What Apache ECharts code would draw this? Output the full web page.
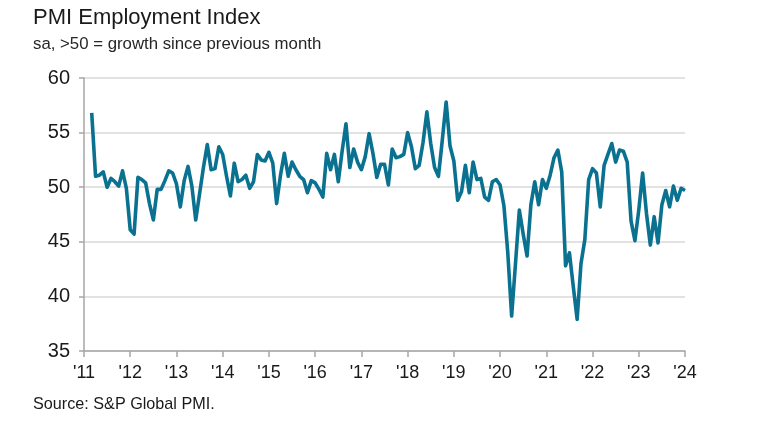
<!DOCTYPE html>
<html>
<head>
<meta charset="utf-8">
<script src="https://cdn.jsdelivr.net/npm/echarts@6/dist/echarts.min.js"></script>
<style>
html,body{margin:0;padding:0;background:#fff;}
#c{width:765px;height:426px;}
</style>
</head>
<body>
<div id="c"></div>
<script>
// Monthly series starts March 2011 (month index 2 counted from Jan 2011)
const startIndex = 2;
const values2011 = [56.8, 51.0, 51.1, 51.4, 50.0, 50.8, 50.5, 50.1, 51.5, 49.9];
const values2012 = [46.1, 45.7, 50.9, 50.7, 50.4, 48.5, 47.0, 49.8, 49.8, 50.6, 51.5, 51.3];
const values2013 = [50.3, 48.2, 50.6, 51.9, 50.1, 47.0, 49.4, 51.8, 53.9, 51.6, 51.7, 53.7];
const values2014 = [53.0, 51.0, 49.2, 52.2, 50.5, 50.7, 51.1, 49.9, 50.5, 53.0, 52.5, 52.4];
const values2015 = [53.2, 52.2, 48.5, 51.1, 53.1, 51.0, 52.3, 51.6, 51.0, 50.7, 49.5, 50.6];
const values2016 = [50.4, 49.8, 49.1, 53.1, 51.6, 53.0, 50.5, 53.3, 55.8, 51.8, 53.5, 52.3];
const values2017 = [51.6, 52.8, 54.9, 53.1, 50.9, 52.1, 52.1, 50.2, 53.5, 52.7, 52.8, 53.0];
const values2018 = [55.0, 53.7, 51.7, 52.0, 54.1, 56.9, 54.0, 51.8, 51.0, 54.3, 57.8, 53.8];
const values2019 = [52.4, 48.8, 49.6, 52.0, 49.5, 52.3, 50.7, 50.8, 49.1, 48.8, 50.5, 50.7];
const values2020 = [50.2, 48.3, 44.0, 38.2, 43.0, 47.9, 45.7, 43.7, 48.4, 50.5, 48.4, 50.7];
const values2021 = [49.9, 51.1, 52.7, 53.4, 51.4, 42.8, 44.0, 40.9, 37.9, 43.0, 45.2, 50.7];
const values2022 = [51.7, 51.3, 48.2, 52.0, 53.0, 54.0, 52.3, 53.4, 53.3, 52.3, 46.9, 45.1];
const values2023 = [47.9, 51.3, 47.6, 44.7, 47.3, 44.9, 48.4, 49.7, 48.2, 50.1, 48.8, 49.9];
const values2024 = [49.7];
const yearTickLabels = ["'11","'12","'13","'14","'15","'16","'17","'18","'19","'20","'21","'22","'23","'24"];

const allValues = [].concat(values2011, values2012, values2013, values2014, values2015,
  values2016, values2017, values2018, values2019, values2020, values2021, values2022,
  values2023, values2024);
const seriesData = allValues.map((v, i) => [startIndex + i, v]);

const FONT = '"Liberation Sans", Arial, sans-serif';
const chart = echarts.init(document.getElementById('c'), null, {renderer: 'canvas'});
chart.setOption({
  animation: false,
  backgroundColor: '#ffffff',
  title: {
    text: 'PMI Employment Index',
    subtext: 'sa, >50 = growth since previous month',
    left: 28,
    top: 2,
    itemGap: 7,
    textStyle: {fontFamily: FONT, fontSize: 22, fontWeight: 'normal', color: '#1a1a1a'},
    subtextStyle: {fontFamily: FONT, fontSize: 16.8, color: '#262626'}
  },
  grid: {left: 84, right: 80, top: 78, bottom: 75, containLabel: false, outerBoundsMode: 'none'},
  xAxis: {
    type: 'value',
    min: 0,
    max: 156,
    interval: 12,
    axisLine: {show: true, lineStyle: {color: '#a6a6a6', width: 1.5}},
    axisTick: {show: true, length: 6, lineStyle: {color: '#a6a6a6', width: 1.5}},
    splitLine: {show: false},
    axisLabel: {
      fontFamily: FONT, fontSize: 18, color: '#1a1a1a', margin: 13,
      formatter: v => yearTickLabels[Math.round(v / 12)]
    }
  },
  yAxis: {
    type: 'value',
    min: 35,
    max: 60,
    interval: 5,
    axisLine: {show: true, lineStyle: {color: '#a6a6a6', width: 1.5}},
    axisTick: {show: true, length: 5, lineStyle: {color: '#a6a6a6', width: 1.5}},
    splitLine: {show: true, lineStyle: {color: '#d9d9d9', width: 1.5}},
    axisLabel: {fontFamily: FONT, fontSize: 20, color: '#1a1a1a', margin: 14}
  },
  series: [{
    type: 'line',
    data: seriesData,
    showSymbol: false,
    symbol: 'none',
    lineStyle: {color: '#0a7290', width: 3.6, join: 'round'},
    z: 3
  }],
  graphic: [{
    type: 'text',
    left: 33,
    top: 397,
    style: {text: 'Source: S&P Global PMI.', font: '16.2px ' + FONT, fill: '#1a1a1a'}
  }]
});
</script>
</body>
</html>
